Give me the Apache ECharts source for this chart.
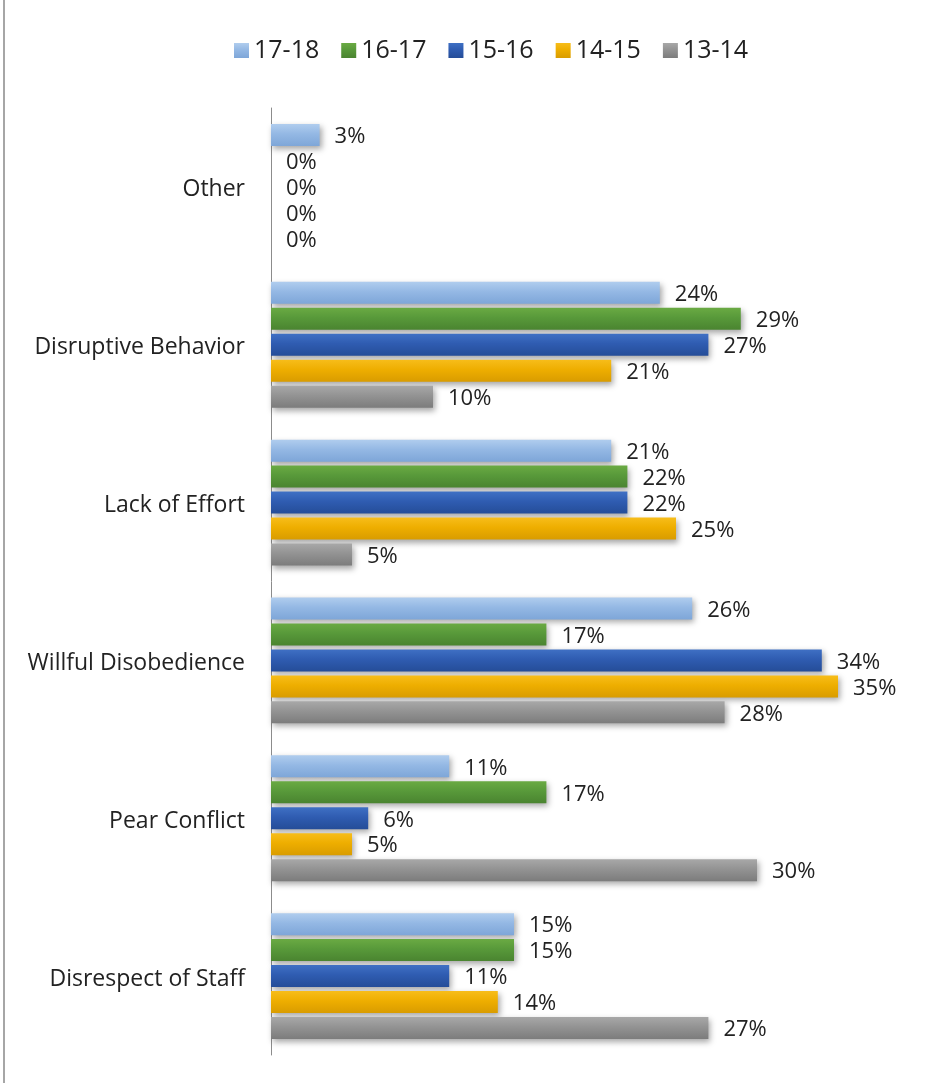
<!DOCTYPE html>
<html>
<head>
<meta charset="utf-8">
<title>Referral reasons by school year</title>
<script src="https://cdn.jsdelivr.net/npm/echarts@6/dist/echarts.min.js"></script>
<style>
  html, body { margin: 0; padding: 0; background: #ffffff; }
  #chart { width: 942px; height: 1083px; }
</style>
</head>
<body>
<div id="chart"></div>
<script>
// Referral categories, listed top to bottom
const categories = ['Other', 'Disruptive Behavior', 'Lack of Effort', 'Willful Disobedience', 'Pear Conflict', 'Disrespect of Staff'];

// School years, in legend order
const years = ['17-18', '16-17', '15-16', '14-15', '13-14'];

// Share of referrals (%) per category, one array per school year
const y1718 = [3, 24, 21, 26, 11, 15];
const y1617 = [0, 29, 22, 17, 17, 15];
const y1516 = [0, 27, 22, 34, 6, 11];
const y1415 = [0, 21, 25, 35, 5, 14];
const y1314 = [0, 10, 5, 28, 30, 27];

const values = [y1718, y1617, y1516, y1415, y1314];

// Bevelled fills: lighter top edge, darker bottom edge
const palette = [
  ['#b0cdee', '#94b8e4', '#7ea6d8'],
  ['#6aaa43', '#58993a', '#4a8430'],
  ['#3f70c4', '#2f5cb1', '#254d98'],
  ['#f7bd1a', '#eeae00', '#d99c00'],
  ['#a8a8a8', '#939393', '#7c7c7c']
];

function fill(c) {
  return {
    type: 'linear', x: 0, y: 0, x2: 0, y2: 1,
    colorStops: [
      { offset: 0, color: c[0] },
      { offset: 0.45, color: c[1] },
      { offset: 1, color: c[2] }
    ]
  };
}

const FONT = '"Open Sans", "Noto Sans", sans-serif';

const series = years.map((name, i) => ({
  name: name,
  type: 'bar',
  data: values[i],
  barWidth: 22,
  barGap: '18%',
  itemStyle: {
    color: fill(palette[i]),
    shadowColor: 'rgba(0,0,0,0.35)',
    shadowBlur: 6,
    shadowOffsetX: 2,
    shadowOffsetY: 3
  },
  label: {
    show: true,
    position: 'right',
    distance: 15,
    offset: [0, 2],
    formatter: '{c}%',
    color: '#222222',
    fontFamily: FONT,
    fontSize: 22
  },
  emphasis: { disabled: true }
}));

const chart = echarts.init(document.getElementById('chart'), null, { renderer: 'canvas' });

chart.setOption({
  animation: false,
  backgroundColor: '#ffffff',
  legend: {
    data: years,
    top: 33,
    left: 229,
    itemWidth: 15,
    itemHeight: 15,
    itemGap: 22,
    icon: 'rect',
    itemStyle: { shadowBlur: 0, shadowOffsetX: 0, shadowOffsetY: 0 },
    textStyle: { color: '#222222', fontFamily: FONT, fontSize: 25 }
  },
  grid: { left: 271, right: 23, top: 108, bottom: 28, containLabel: false },
  xAxis: {
    type: 'value',
    min: 0,
    max: 40,
    show: false
  },
  yAxis: {
    type: 'category',
    data: categories,
    inverse: true,
    axisLine: { show: true, lineStyle: { color: '#8c8c8c', width: 1 } },
    axisTick: { show: false },
    axisLabel: {
      margin: 26,
      formatter: (v) => '{cat|' + v + '}',
      rich: {
        cat: { color: '#222222', fontFamily: FONT, fontSize: 23, padding: [6, 0, 0, 0] }
      }
    }
  },
  graphic: [
    {
      type: 'line',
      shape: { x1: 4, y1: 0, x2: 4, y2: 1083 },
      style: { stroke: '#a6a6a6', lineWidth: 2 },
      silent: true
    }
  ],
  series: series
});
</script>
</body>
</html>
